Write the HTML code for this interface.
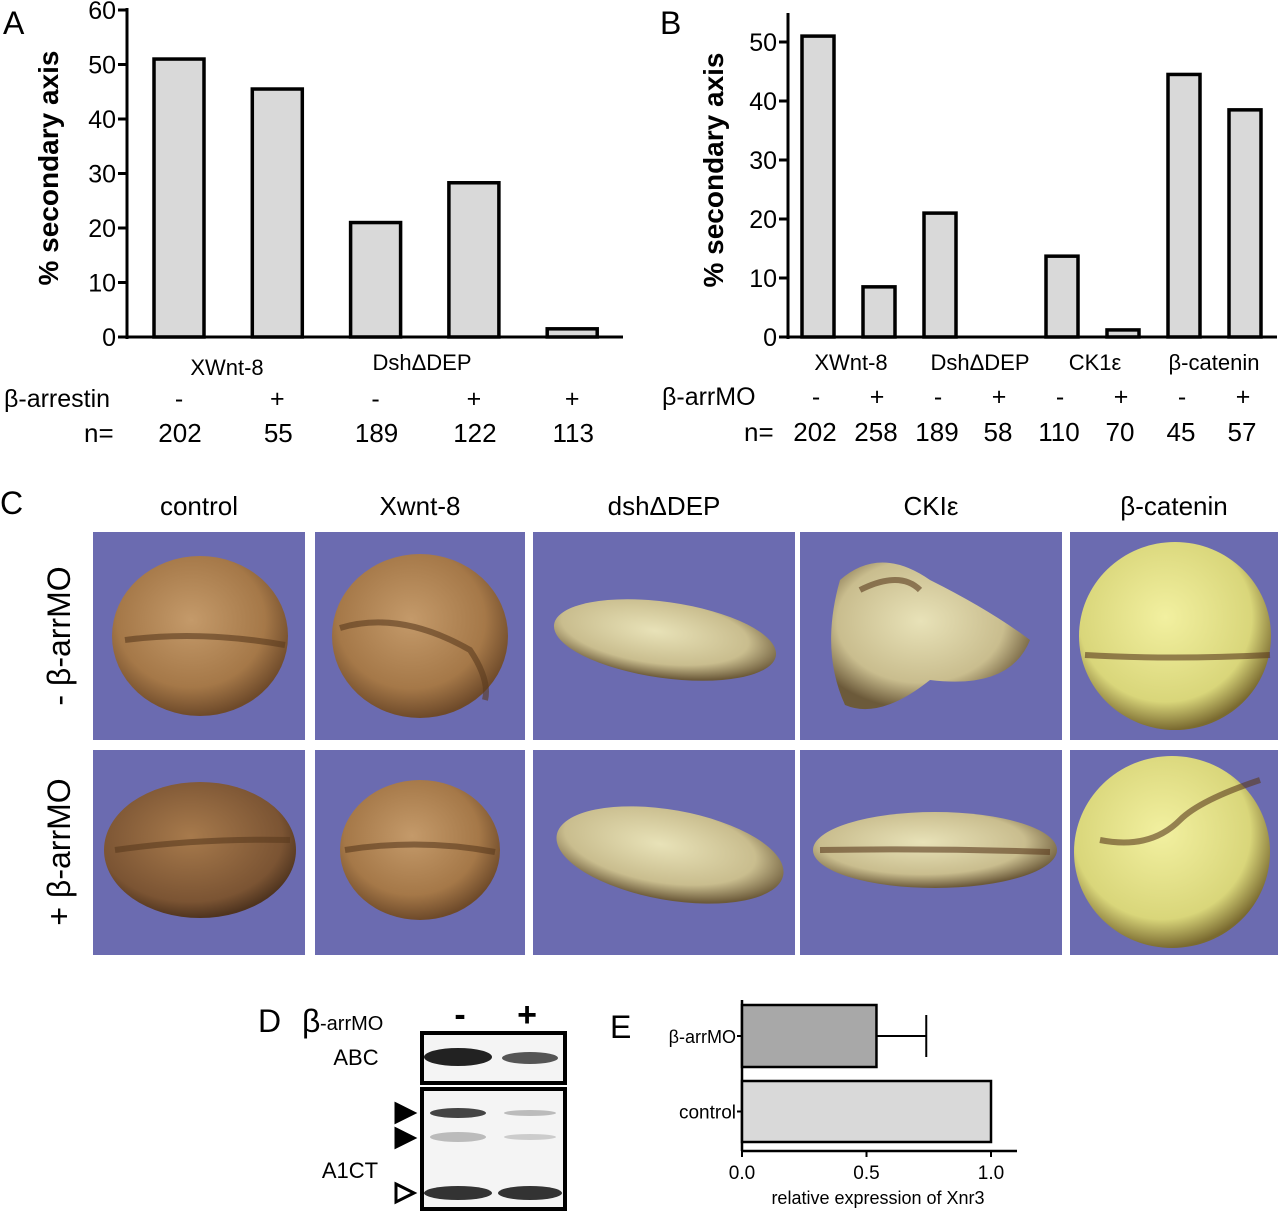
<!DOCTYPE html>
<html><head><meta charset="utf-8"><style>
body{margin:0;background:#fff;}
svg{display:block;font-family:"Liberation Sans",sans-serif;}
</style></head><body>
<svg id="fig" width="1280" height="1211" viewBox="0 0 1280 1211" xmlns="http://www.w3.org/2000/svg">
<defs>
<radialGradient id="gTan" cx="45%" cy="40%" r="60%"><stop offset="0" stop-color="#c49a6a"/><stop offset="0.7" stop-color="#a57848"/><stop offset="1" stop-color="#6e4a2a"/></radialGradient>
<radialGradient id="gDark" cx="45%" cy="40%" r="60%"><stop offset="0" stop-color="#a77a4c"/><stop offset="0.8" stop-color="#7b5433"/><stop offset="1" stop-color="#4f341f"/></radialGradient>
<radialGradient id="gPale" cx="45%" cy="40%" r="60%"><stop offset="0" stop-color="#e8e2b8"/><stop offset="0.7" stop-color="#c9bd8e"/><stop offset="1" stop-color="#6c5a3a"/></radialGradient>
<radialGradient id="gYel" cx="45%" cy="40%" r="60%"><stop offset="0" stop-color="#f2f0a0"/><stop offset="0.75" stop-color="#d9d67a"/><stop offset="1" stop-color="#7a6a30"/></radialGradient>
</defs>
<g id="panelA"></g>
<g id="panelB"></g>
<g id="panelC"></g>
<g id="panelD"></g>
<g id="panelE"></g>
</svg>
<script>
// Panel A data
const aCats = ["XWnt-8","XWnt-8","DshΔDEP","DshΔDEP",""];
const aValues = [51, 45.5, 21, 28.3, 1.5];
const aSigns = ["-","+","-","+","+"];
const aN = ["202","55","189","122","113"];
const aTicks = [0,10,20,30,40,50,60];
// Panel B data
const bValues = [51, 8.5, 21, 0, 13.7, 1.2, 44.5, 38.5];
const bSigns = ["-","+","-","+","-","+","-","+"];
const bN = ["202","258","189","58","110","70","45","57"];
const bGroups = ["XWnt-8","DshΔDEP","CK1ε","β-catenin"];
const bTicks = [0,10,20,30,40,50];
// Panel E data
const eCats = ["β-arrMO","control"];
const eValues = [0.54, 1.0];
const eErr = [0.20, 0];
const eTicks = ["0.0","0.5","1.0"];

const NS="http://www.w3.org/2000/svg";
function mk(parent,tag,attrs,text){const e=document.createElementNS(NS,tag);for(const k in attrs)e.setAttribute(k,attrs[k]);if(text!==undefined)e.textContent=text;parent.appendChild(e);return e;}

// ---------- Panel A ----------
(function(){
const g=document.getElementById('panelA');
const x0=127, y0=337, pxu=5.45;
const ya=v=>y0-v*pxu;
const xc=i=>179+i*98.3;
let t=mk(g,'text',{x:3,y:34,'font-size':32});t.textContent='A';


let l=mk(g,'line',{x1:x0,y1:ya(60)-2,x2:x0,y2:y0+2,stroke:'#000','stroke-width':3});


l=mk(g,'line',{x1:x0,y1:y0,x2:623,y2:y0,stroke:'#000','stroke-width':3});


aTicks.forEach(v=>{
 let tk=mk(g,'line',{x1:x0-9,y1:ya(v),x2:x0,y2:ya(v),stroke:'#000','stroke-width':3});
 
 
 let tl=mk(g,'text',{x:x0-11,y:ya(v)+9,'font-size':25,'text-anchor':'end'},String(v));
 
 
});
aValues.forEach((v,i)=>{
 let r=mk(g,'rect',{x:xc(i)-25,y:ya(v),width:50,height:v*pxu,fill:'#d9d9d9',stroke:'#000','stroke-width':3.5});
 
 
 let s=mk(g,'text',{x:xc(i),y:407,'font-size':25,'text-anchor':'middle'},aSigns[i]);
 
 
 let n=mk(g,'text',{x:xc(i)+1,y:442,'font-size':26,'text-anchor':'middle'},aN[i]);
 
 
});
let c1=mk(g,'text',{x:227,y:375,'font-size':22,'text-anchor':'middle'},aCats[0]);


let c2=mk(g,'text',{x:422,y:370,'font-size':22,'text-anchor':'middle'},aCats[2]);


let rl=mk(g,'text',{x:4,y:407,'font-size':25},'β-arrestin');


let nl=mk(g,'text',{x:84,y:442,'font-size':26},'n=');


let yt=mk(g,'text',{x:0,y:0,'font-size':28,'font-weight':'bold','text-anchor':'middle',transform:'translate(58,168) rotate(-90)'},'% secondary axis');


})();

// ---------- Panel B ----------
(function(){
const g=document.getElementById('panelB');
const x0=788, y0=337, pxu=5.9;
const yb=v=>y0-v*pxu;
const xc=i=>818+i*61;
let t=mk(g,'text',{x:660,y:34,'font-size':32},'B');


let l=mk(g,'line',{x1:x0,y1:13,x2:x0,y2:y0+2,stroke:'#000','stroke-width':3});


l=mk(g,'line',{x1:x0,y1:y0,x2:1277,y2:y0,stroke:'#000','stroke-width':3});


bTicks.forEach(v=>{
 let tk=mk(g,'line',{x1:x0-9,y1:yb(v),x2:x0,y2:yb(v),stroke:'#000','stroke-width':3});
 
 
 let tl=mk(g,'text',{x:x0-11,y:yb(v)+9,'font-size':25,'text-anchor':'end'},String(v));
 
 
});
bValues.forEach((v,i)=>{
 if(v>0){
  let r=mk(g,'rect',{x:xc(i)-16,y:yb(v),width:32,height:v*pxu,fill:'#d9d9d9',stroke:'#000','stroke-width':3.5});
  
  
 }
 let s=mk(g,'text',{x:xc(i)-2,y:405,'font-size':25,'text-anchor':'middle'},bSigns[i]);
 
 
 let n=mk(g,'text',{x:xc(i)-3,y:441,'font-size':26,'text-anchor':'middle'},bN[i]);
 
 
});
const gx=[851,980,1095,1214];
bGroups.forEach((c,i)=>{
 let tx=mk(g,'text',{x:gx[i],y:370,'font-size':22,'text-anchor':'middle'},c);
 
 
});
let rl=mk(g,'text',{x:662,y:405,'font-size':25},'β-arrMO');


let nl=mk(g,'text',{x:744,y:441,'font-size':26},'n=');


let yt=mk(g,'text',{x:0,y:0,'font-size':28,'font-weight':'bold','text-anchor':'middle',transform:'translate(723,170) rotate(-90)'},'% secondary axis');


})();

// ---------- Panel C ----------
(function(){
const g=document.getElementById('panelC');
let t=mk(g,'text',{x:0,y:514,'font-size':32},'C');


const cols=[[93,212],[315,210],[533,262],[800,262],[1070,208]];
const titles=["control","Xwnt-8","dshΔDEP","CKIε","β-catenin"];
const rows=[[532,208],[750,205]];
cols.forEach((c,i)=>{
 let tt=mk(g,'text',{x:c[0]+c[1]/2,y:515,'font-size':26,'text-anchor':'middle'},titles[i]);
 
 
 rows.forEach((r,j)=>{
  let rc=mk(g,'rect',{x:c[0],y:r[0],width:c[1],height:r[1],fill:'#6b6bb0'});
  
  
 });
});
const emb=[
 ['ellipse',{cx:200,cy:636,rx:88,ry:80,fill:'url(#gTan)'}],
 ['ellipse',{cx:420,cy:636,rx:88,ry:82,fill:'url(#gTan)'}],
 ['ellipse',{cx:665,cy:640,rx:112,ry:38,fill:'url(#gPale)',transform:'rotate(8 665 640)'}],
 ['path',{d:'M840 580 Q880 545 930 580 Q990 610 1030 640 Q1010 690 930 680 Q880 720 845 705 Q820 650 840 580 Z',fill:'url(#gPale)'}],
 ['ellipse',{cx:1175,cy:636,rx:96,ry:94,fill:'url(#gYel)'}],
 ['ellipse',{cx:200,cy:850,rx:96,ry:68,fill:'url(#gDark)'}],
 ['ellipse',{cx:420,cy:850,rx:80,ry:70,fill:'url(#gTan)'}],
 ['ellipse',{cx:670,cy:855,rx:115,ry:45,fill:'url(#gPale)',transform:'rotate(10 670 855)'}],
 ['ellipse',{cx:935,cy:850,rx:122,ry:38,fill:'url(#gPale)'}],
 ['ellipse',{cx:1172,cy:852,rx:98,ry:96,fill:'url(#gYel)'}]
];
emb.forEach(e=>{
 let el=mk(g,e[0],e[1]);
 
 
});
const streaks=['M125 640 Q200 630 285 645','M340 628 Q400 610 470 650 Q490 680 485 700','M1085 655 Q1170 660 1270 655','M1100 840 Q1150 850 1180 820 Q1200 800 1260 780','M115 850 Q200 838 290 840','M345 850 Q420 838 495 852','M820 850 Q935 848 1050 852','M860 590 Q900 570 920 590'];
streaks.forEach(d=>{
 let p=mk(g,'path',{d:d,fill:'none',stroke:'#5a3a1e','stroke-width':6,'stroke-opacity':0.6});
 
 
});
let r1=mk(g,'text',{x:0,y:0,'font-size':32,'text-anchor':'middle',transform:'translate(70,636) rotate(-90)'},'- β-arrMO');


let r2=mk(g,'text',{x:0,y:0,'font-size':32,'text-anchor':'middle',transform:'translate(70,852) rotate(-90)'},'+ β-arrMO');


})();

// ---------- Panel D ----------
(function(){
const g=document.getElementById('panelD');
let t=mk(g,'text',{x:258,y:1032,'font-size':32},'D');


let b=mk(g,'text',{x:302,y:1032,'font-size':32},'β');


let b2=mk(g,'text',{x:320,y:1030,'font-size':20},'-arrMO');


let m=mk(g,'text',{x:460,y:1026,'font-size':34,'font-weight':'bold','text-anchor':'middle'},'-');


let p=mk(g,'text',{x:527,y:1026,'font-size':34,'font-weight':'bold','text-anchor':'middle'},'+');


let bx1=mk(g,'rect',{x:422,y:1033,width:143,height:50,fill:'#f4f4f4',stroke:'#000','stroke-width':4});


let bx2=mk(g,'rect',{x:422,y:1089,width:143,height:120,fill:'#f4f4f4',stroke:'#000','stroke-width':4});


const bands=[[458,1057,34,9,'#222'],[530,1058,28,6,'#555'],[458,1113,28,5,'#444'],[530,1113,26,3,'#bbb'],[458,1137,28,5,'#bbb'],[530,1137,26,3,'#ccc'],[458,1193,34,7,'#333'],[530,1193,32,7,'#333']];
bands.forEach(bd=>{
 let e=mk(g,'ellipse',{cx:bd[0],cy:bd[1],rx:bd[2],ry:bd[3],fill:bd[4]});
 
 
});
let l1=mk(g,'text',{x:356,y:1065,'font-size':22,'text-anchor':'middle'},'ABC');


let l2=mk(g,'text',{x:350,y:1178,'font-size':22,'text-anchor':'middle'},'A1CT');


[[1113,true],[1138,true],[1193,false]].forEach(a=>{
 let tri=mk(g,'polygon',{points:`396,${a[0]-9} 414,${a[0]} 396,${a[0]+9}`,fill:a[1]?'#000':'#fff',stroke:'#000','stroke-width':3});
 
 
});
})();

// ---------- Panel E ----------
(function(){
const g=document.getElementById('panelE');
const x0=742, yAx=1151, pxu=249;
const xe=v=>x0+v*pxu;
const bands=[[1005,1067],[1081,1142]];
let t=mk(g,'text',{x:610,y:1038,'font-size':32},'E');


let ya=mk(g,'line',{x1:x0,y1:1000,x2:x0,y2:yAx,stroke:'#000','stroke-width':2.5});


let xa=mk(g,'line',{x1:x0,y1:yAx,x2:1017,y2:yAx,stroke:'#000','stroke-width':2.5});


eValues.forEach((v,i)=>{
 const y1=bands[i][0], y2=bands[i][1];
 let r=mk(g,'rect',{x:x0,y:y1,width:v*pxu,height:y2-y1,fill:i===0?'#a8a8a8':'#d9d9d9',stroke:'#000','stroke-width':2.5});
 
 
 const cy=(y1+y2)/2;
 if(eErr[i]>0){
  let el=mk(g,'line',{x1:xe(v),y1:cy,x2:xe(v+eErr[i]),y2:cy,stroke:'#000','stroke-width':2});
  
  
  let ec=mk(g,'line',{x1:xe(v+eErr[i]),y1:cy-21,x2:xe(v+eErr[i]),y2:cy+21,stroke:'#000','stroke-width':2});
  
  
 }
 let tk=mk(g,'line',{x1:x0-5,y1:cy,x2:x0,y2:cy,stroke:'#000','stroke-width':2});
 
 
 let lb=mk(g,'text',{x:x0-6,y:cy+7,'font-size':i===0?18:19,'text-anchor':'end'},eCats[i]);
 
 
});
eTicks.forEach(s=>{
 const v=parseFloat(s);
 let tk=mk(g,'line',{x1:xe(v),y1:yAx,x2:xe(v),y2:yAx+6,stroke:'#000','stroke-width':2});
 
 
 let tl=mk(g,'text',{x:xe(v),y:1179,'font-size':19,'text-anchor':'middle'},s);
 
 
});
let xt=mk(g,'text',{x:878,y:1204,'font-size':18,'text-anchor':'middle'},'relative expression of Xnr3');


})();
</script>
</body></html>
